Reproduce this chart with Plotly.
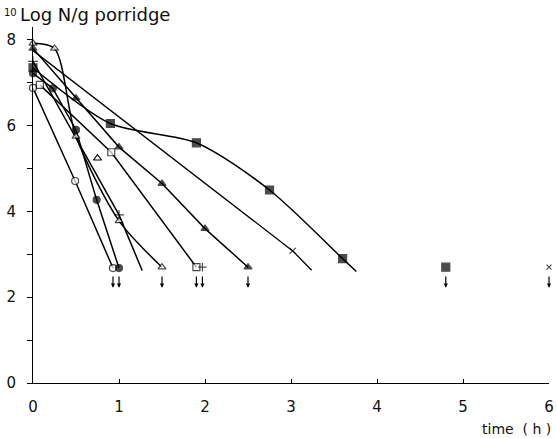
import plotly.graph_objects as go

# ---- data (time in h, 10log N/g porridge) ----
sqf_t = [0, 0.9, 1.9, 2.75, 3.6, 3.76]
sqf_y = [7.35, 6.05, 5.6, 4.5, 2.9, 2.6]

cross_t = [0, 3.02, 3.24]
cross_y = [7.75, 3.08, 2.63]

trif_t = [0, 0.5, 1.0, 1.5, 2.0, 2.5]
trif_y = [7.8, 6.64, 5.5, 4.65, 3.6, 2.7]

sqo_t = [0.08, 0.91, 1.9]
sqo_y = [6.95, 5.38, 2.7]

trio_t = [0, 0.25, 0.5, 1.0, 1.5]
trio_y = [7.92, 7.8, 5.75, 3.78, 2.7]

trio2_t = [0.75]
trio2_y = [5.24]

plus_t = [0, 1.0, 1.27]
plus_y = [7.5, 3.92, 2.62]

circf_t = [0, 0.23, 0.5, 0.74, 1.0]
circf_y = [7.22, 6.87, 5.9, 4.27, 2.68]

circo_t = [0, 0.49, 0.93]
circo_y = [6.88, 4.71, 2.68]

# detection-limit points (below limit, marked with arrows)
lim_t = [1.97, 4.8, 6.0]
lim_y = [2.7, 2.7, 2.7]
lim_sym = ["cross-thin-open", "square", "x-thin-open"]
arrow_t = [0.93, 1.0, 1.5, 1.9, 1.97, 2.5, 4.8, 6.0]
arrow_top = 2.52
arrow_bot = 2.22

x_ticks = [0, 1, 2, 3, 4, 5, 6]
y_ticks = [0, 2, 4, 6, 8]

fig = go.Figure()

def add(t, y, symbol, fill, size, end_blank=False, shape="linear"):
    sizes = [size] * len(t)
    if end_blank:
        sizes[-1] = 0
    fig.add_trace(go.Scatter(
        x=t, y=y, mode="lines+markers",
        line=dict(color="black", width=1.5, shape=shape, smoothing=0.8),
        marker=dict(symbol=symbol, size=sizes, color=fill,
                    line=dict(color="black", width=1.2)),
        cliponaxis=False, showlegend=False, hoverinfo="skip"))

add(circo_t, circo_y, "circle", "white", 7)
add(sqo_t, sqo_y, "square", "white", 7)
add(plus_t, plus_y, "cross-thin-open", "black", 7, end_blank=True)
add(circf_t, circf_y, "circle", "black", 7)
add(trio_t, trio_y, "triangle-up", "white", 7, shape="spline")
add(trif_t, trif_y, "triangle-up", "black", 7)
cross_sizes = [0, 6, 0]
fig.add_trace(go.Scatter(
    x=cross_t, y=cross_y, mode="lines+markers",
    line=dict(color="black", width=1.3),
    marker=dict(symbol="x-thin-open", size=cross_sizes, color="black",
                line=dict(color="black", width=1.2)),
    cliponaxis=False, showlegend=False, hoverinfo="skip"))
add(sqf_t, sqf_y, "square", "black", 8, end_blank=True, shape="spline")

fig.add_trace(go.Scatter(
    x=trio2_t, y=trio2_y, mode="markers",
    marker=dict(symbol="triangle-up", size=7, color="white",
                line=dict(color="black", width=1.2)),
    cliponaxis=False, showlegend=False, hoverinfo="skip"))

fig.add_trace(go.Scatter(
    x=lim_t, y=lim_y, mode="markers",
    marker=dict(symbol=lim_sym, size=[6, 8, 5], color="black",
                line=dict(color="black", width=1.2)),
    cliponaxis=False, showlegend=False, hoverinfo="skip"))

# small × at start
fig.add_trace(go.Scatter(
    x=[-0.04], y=[7.25], mode="markers",
    marker=dict(symbol="x-thin-open", size=5, color="black",
                line=dict(color="black", width=1)),
    cliponaxis=False, showlegend=False, hoverinfo="skip"))

for t in arrow_t:
    fig.add_annotation(x=t, y=arrow_bot, ax=t, ay=arrow_top,
                       xref="x", yref="y", axref="x", ayref="y",
                       showarrow=True, arrowhead=2, arrowsize=0.7,
                       arrowwidth=1.2, arrowcolor="black", text="")

font = "DejaVu Sans, Liberation Sans, sans-serif"

fig.add_annotation(xref="paper", yref="paper", x=-0.06, y=1.04,
                   xanchor="left", yanchor="middle", showarrow=False,
                   text="10", font=dict(family=font, size=10, color="#111"))
fig.add_annotation(xref="paper", yref="paper", x=-0.029, y=1.034,
                   xanchor="left", yanchor="middle", showarrow=False,
                   text="Log N/g porridge",
                   font=dict(family=font, size=18, color="#111"))
fig.add_annotation(xref="paper", yref="paper", x=1.008, y=-0.128,
                   xanchor="right", yanchor="middle", showarrow=False,
                   text="time  ( h )",
                   font=dict(family=font, size=14, color="#111"))

fig.update_xaxes(range=[0, 6], tickvals=x_ticks, ticktext=[str(v) for v in x_ticks],
                 showgrid=False, zeroline=False, showline=True,
                 linecolor="black", linewidth=1, automargin=False,
                 ticks="inside", ticklen=4, tickcolor="black",
                 ticklabelstandoff=10,
                 tickfont=dict(family=font, size=15, color="#111"))
fig.update_yaxes(range=[0, 8.3], tickvals=y_ticks, ticktext=[str(v) for v in y_ticks],
                 showgrid=False, zeroline=False, showline=True,
                 linecolor="black", linewidth=1, automargin=False,
                 ticks="outside", ticklen=5, tickcolor="black",
                 ticklabelstandoff=8,
                 minor=dict(tickvals=[1, 3, 5, 7], ticks="outside", ticklen=5,
                            tickcolor="black"),
                 tickfont=dict(family=font, size=15, color="#111"))

fig.update_layout(width=557, height=438,
                  margin=dict(l=33, r=8, t=27, b=55),
                  plot_bgcolor="white", paper_bgcolor="white")

fig.write_html("out.html", config={"displayModeBar": False},
               post_script="document.body.style.margin='0';document.body.style.overflow='hidden';")
